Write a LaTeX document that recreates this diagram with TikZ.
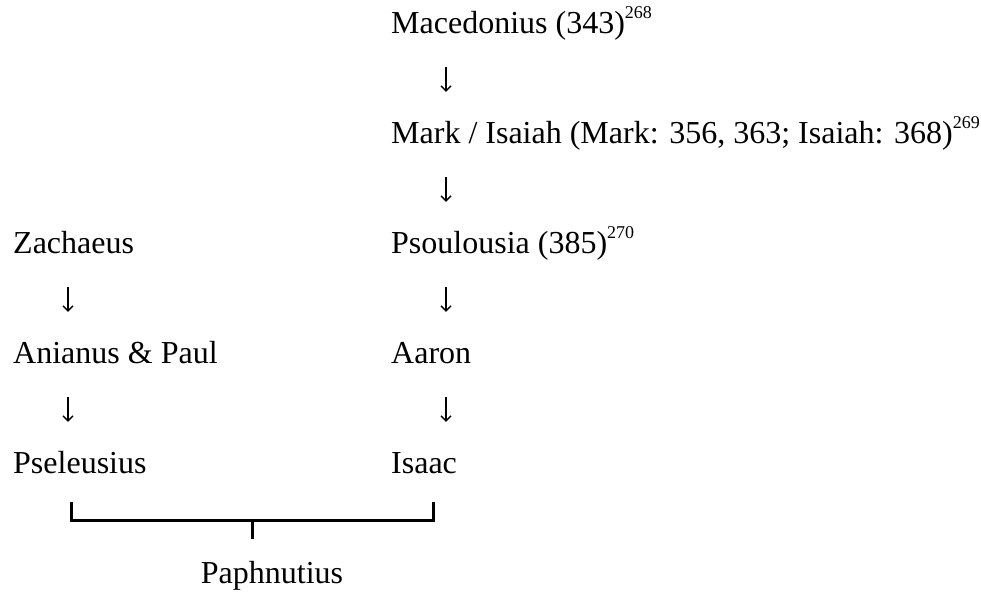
\documentclass[tikz,border=0pt]{standalone}
\usepackage{fontspec}
\setmainfont{Liberation Serif}
\usepackage{tikz}
\usetikzlibrary{arrows.meta,calc}

\newcommand{\fnmark}[1]{\raisebox{15pt}{\fontsize{18}{18}\selectfont #1}}

\begin{document}
\begin{tikzpicture}[x=1pt, y=-1pt, >={Straight Barb[length=5pt,width=10pt]},
		font=\fontsize{32}{38}\selectfont,
		person/.style={anchor=base west, inner sep=0pt, text height=22pt, text depth=7pt},
		down/.style={->, line width=1.3pt, shorten <=27pt, shorten >=29pt},
		bracket/.style={line width=3pt}]
		\useasboundingbox (0,0) rectangle (981,595);
		% right column
		\node[person] (mac) at (391,33) {Macedonius (343)\fnmark{268}};
		\node[person] (mark) at (391,143) {Mark / Isaiah (Mark: 356, 363; Isaiah: 368)\fnmark{269}};
		\node[person] (psoul) at (391,253) {Psoulousia (385)\fnmark{270}};
		\node[person] (aaron) at (391,363) {Aaron};
		\node[person] (isaac) at (391,473) {Isaac};
		% left column
		\node[person] (zach) at (13,253) {Zachaeus};
		\node[person] (anian) at (13,363) {Anianus \& Paul};
		\node[person] (psel) at (13,473) {Pseleusius};
		\node[anchor=base, inner sep=0pt] (paph) at (272,583) {Paphnutius};
		% arrows, 55 in from the left edge of each name
		\draw[down] ([xshift=55pt]mac.south west) -- ([xshift=55pt]mark.north west);
		\draw[down] ([xshift=55pt]mark.south west) -- ([xshift=55pt]psoul.north west);
		\draw[down] ([xshift=55pt]psoul.south west) -- ([xshift=55pt]aaron.north west);
		\draw[down] ([xshift=55pt]aaron.south west) -- ([xshift=55pt]isaac.north west);
		\draw[down] ([xshift=55pt]zach.south west) -- ([xshift=55pt]anian.north west);
		\draw[down] ([xshift=55pt]anian.south west) -- ([xshift=55pt]psel.north west);
		% bracket joining Pseleusius and Isaac into Paphnutius
		\coordinate (bl) at (71,502);
		\coordinate (br) at (433,502);
		\coordinate (bm) at (252,539);
		\draw[bracket] (bl) -- (bl |- 0,520) -- (br |- 0,520) -- (br);
		\draw[bracket] (bm |- 0,520) -- (bm);
	\end{tikzpicture}
\end{document}
